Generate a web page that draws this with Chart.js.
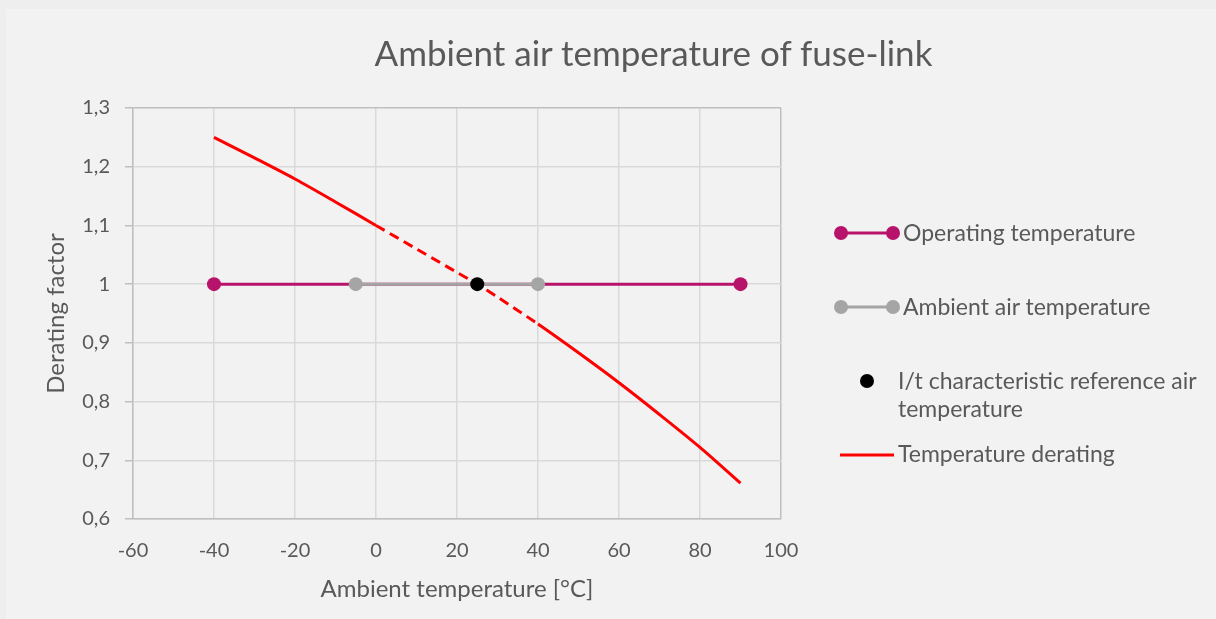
<!DOCTYPE html>
<html>
<head>
<meta charset="utf-8">
<script src="https://cdn.jsdelivr.net/npm/chart.js@4.4.1/dist/chart.umd.min.js"></script>
<style>
html,body{margin:0;padding:0;width:1216px;height:619px;overflow:hidden;background:#EEEEEE;font-family:Lato,sans-serif;}
#bg{position:absolute;left:6px;top:9px;right:0;bottom:0;background:#F2F2F2;}
#wrap{position:absolute;left:0;top:0;width:1216px;height:619px;}
#title{position:absolute;top:34.5px;left:653.5px;transform:translateX(-50%);white-space:nowrap;font-size:35px;line-height:35px;color:#595959;}
.leg{position:absolute;font-size:23px;line-height:23px;color:#595959;white-space:nowrap;}
#legsvg{position:absolute;left:0;top:0;}
</style>
</head>
<body>
<div id="bg"></div>
<div id="wrap"><canvas id="c" width="1216" height="619"></canvas></div>
<div id="title">Ambient air temperature of fuse-link</div>
<svg id="legsvg" width="1216" height="619"></svg>
<div class="leg" id="leg0" style="left:903px;top:221px;"></div>
<div class="leg" id="leg1" style="left:903px;top:295px;"></div>
<div class="leg" id="leg2" style="left:898px;top:366px;line-height:28px;"></div>
<div class="leg" id="leg3" style="left:898px;top:442px;"></div>
<script>
// ---- data ----
const tempX    = [-40, -30, -20, -10, 0, 10, 20, 25, 30, 40, 50, 60, 70, 80, 90];
const derating = [1.25, 1.215, 1.179, 1.140, 1.100, 1.060, 1.020, 1.0, 0.978, 0.932, 0.883, 0.832, 0.778, 0.722, 0.661];
const dashedFrom = 0, dashedTo = 40;
const operatingX = [-40, 90];
const operatingY = [1, 1];
const ambientX = [-5, 40];
const ambientY = [1, 1];
const referenceX = [25];
const referenceY = [1];
const xTickValues = [-60, -40, -20, 0, 20, 40, 60, 80, 100];
const xTickLabels = ['-60', '-40', '-20', '0', '20', '40', '60', '80', '100'];
const yTickValues = [0.6, 0.7, 0.8, 0.9, 1.0, 1.1, 1.2, 1.3];
const yTickLabels = ['0,6', '0,7', '0,8', '0,9', '1', '1,1', '1,2', '1,3'];
const seriesNames = ['Operating temperature', 'Ambient air temperature', 'I/t characteristic reference air temperature', 'Temperature derating'];
const titleText = 'Ambient air temperature of fuse-link';
const xTitle = 'Ambient temperature [°C]';
const yTitle = 'Derating factor';

const MAGENTA = '#B8136B', GREY = '#A5A5A5', RED = '#FF0000', BLACK = '#000000';
const TEXT = '#595959', GRID = '#D9D9D9', AXIS = '#BFBFBF';

function pts(xs, ys){ return xs.map((x,i)=>({x:x, y:ys[i]})); }
function nearestIdx(arr, v){ let b=0; for(let i=1;i<arr.length;i++){ if(Math.abs(arr[i]-v)<Math.abs(arr[b]-v)) b=i; } return b; }

document.getElementById('title').textContent = titleText;
document.getElementById('leg0').textContent = seriesNames[0];
document.getElementById('leg1').textContent = seriesNames[1];
document.getElementById('leg2').innerHTML = 'I/t characteristic reference air<br>temperature';
document.getElementById('leg3').textContent = seriesNames[3];

// legend markers
const svg = document.getElementById('legsvg');
svg.innerHTML =
  '<line x1="841" y1="233" x2="893" y2="233" stroke="'+MAGENTA+'" stroke-width="3"/>' +
  '<circle cx="841" cy="233" r="7" fill="'+MAGENTA+'"/><circle cx="893" cy="233" r="7" fill="'+MAGENTA+'"/>' +
  '<line x1="841" y1="307" x2="893" y2="307" stroke="'+GREY+'" stroke-width="3"/>' +
  '<circle cx="841" cy="307" r="7" fill="'+GREY+'"/><circle cx="893" cy="307" r="7" fill="'+GREY+'"/>' +
  '<circle cx="867" cy="381" r="7" fill="'+BLACK+'"/>' +
  '<line x1="840" y1="455" x2="894" y2="455" stroke="'+RED+'" stroke-width="3"/>';

new Chart(document.getElementById('c'), {
  type: 'scatter',
  data: {
    datasets: [
      { label: seriesNames[2], data: pts(referenceX, referenceY), showLine:false,
        pointRadius:7, pointBackgroundColor:BLACK, pointBorderColor:BLACK, pointBorderWidth:0, order:0 },
      { label: seriesNames[1], data: pts(ambientX, ambientY), showLine:true,
        borderColor:GREY, borderWidth:3, pointRadius:7, pointBackgroundColor:GREY, pointBorderColor:GREY, pointBorderWidth:0, order:1 },
      { label: seriesNames[0], data: pts(operatingX, operatingY), showLine:true,
        borderColor:MAGENTA, borderWidth:3, pointRadius:7, pointBackgroundColor:MAGENTA, pointBorderColor:MAGENTA, pointBorderWidth:0, order:2 },
      { label: seriesNames[3], data: pts(tempX, derating), showLine:true,
        borderColor:RED, borderWidth:3, pointRadius:0, tension:0.3, order:3,
        segment: { borderDash: ctx => (ctx.p0.parsed.x >= dashedFrom && ctx.p1.parsed.x <= dashedTo) ? [10,6] : undefined } }
    ]
  },
  options: {
    responsive:false, animation:false, events:[],
    layout: { padding: { left:0, right:435, top:108, bottom:0 } },
    plugins: { legend:{display:false}, title:{display:false}, tooltip:{enabled:false} },
    scales: {
      x: {
        type:'linear', min:-60, max:100,
        afterBuildTicks: s => { s.ticks = xTickValues.map(v=>({value:v})); },
        afterFit: s => { s.height = 100; },
        ticks: { padding:20, color:TEXT, font:{family:'Lato', size:20},
                 callback: v => xTickLabels[nearestIdx(xTickValues, v)] },
        grid: { color: c => (c.tick && c.tick.value === 100) ? AXIS : GRID, lineWidth:1.5, drawTicks:false },
        border: { color:AXIS, width:1.5 },
        title: { display:true, text:xTitle, color:TEXT, font:{family:'Lato', size:24}, padding:{top:0, bottom:15} }
      },
      y: {
        type:'linear', min:0.6, max:1.3,
        afterBuildTicks: s => { s.ticks = yTickValues.map(v=>({value:v})); },
        afterFit: s => { s.width = 133; },
        ticks: { padding:15, color:TEXT, font:{family:'Lato', size:20},
                 callback: v => yTickLabels[nearestIdx(yTickValues, v)] },
        grid: { color: c => (c.tick && Math.abs(c.tick.value-1.3)<1e-6) ? AXIS : GRID, lineWidth:1.5, tickColor:AXIS, tickLength:8 },
        border: { color:AXIS, width:1.5 },
        title: { display:true, text:yTitle, color:TEXT, font:{family:'Lato', size:24}, padding:{top:42, bottom:0} }
      }
    }
  }
});
</script>
</body>
</html>
